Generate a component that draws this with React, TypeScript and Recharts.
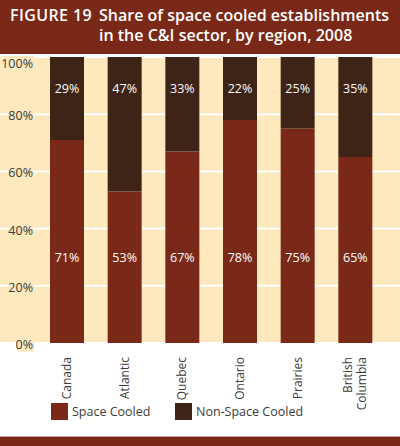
import React from "react";
import {
  BarChart,
  Bar,
  XAxis,
  YAxis,
  CartesianGrid,
  LabelList,
} from "recharts";

// share of establishments, per region, 2008
const regions = ["Canada", "Atlantic", "Quebec", "Ontario", "Prairies", "British Columbia"];
const spaceCooled = [71, 53, 67, 78, 75, 65];
const nonSpaceCooled = [29, 47, 33, 22, 25, 35];
const yTicks = [0, 20, 40, 60, 80, 100];
const seriesNames = ["Space Cooled", "Non-Space Cooled"];

const RED = "#7a2918";
const BROWN = "#3d2416";
const BEIGE = "#fde9bd";
const TEXT = "#3b3b3b";
const FONT = "'Open Sans', sans-serif";

const data = regions.map((region, i) => ({
  region,
  cooled: spaceCooled[i],
  nonCooled: nonSpaceCooled[i],
}));

function YTick(props: any) {
  const { x, y, payload } = props;
  const label = `${payload.value}%`;
  const w = label.length * 7.6;
  const dy = payload.value === 100 ? 6 : 1.5;
  return (
    <g>
      <rect x={x - w - 1} y={y + dy - 7} width={w + 2} height={14} fill={BEIGE} />
      <text
        x={x}
        y={y + dy}
        textAnchor="end"
        dominantBaseline="central"
        fill={TEXT}
        fontSize={12.5}
        fontFamily={FONT}
      >
        {label}
      </text>
    </g>
  );
}

function XTick(props: any) {
  const { x, y, payload } = props;
  const words: string[] = payload.value.length > 10 ? payload.value.split(" ") : [payload.value];
  const lineGap = 14;
  const first = x + 4 - ((words.length - 1) * lineGap) / 2;
  return (
    <g>
      {words.map((w, i) => (
        <text
          key={w}
          transform={`translate(${first + i * lineGap}, ${y + 6}) rotate(-90)`}
          textAnchor="end"
          fill={TEXT}
          fontSize={12}
          fontFamily={FONT}
        >
          {w}
        </text>
      ))}
    </g>
  );
}

// labels sit at fixed heights on the value scale: ~30% for the lower segment, ~89% for the upper one
function lowerLabel(props: any) {
  const { x, y, width, height, value } = props;
  const full = (height * 100) / value;
  return (
    <text
      x={x + width / 2}
      y={y + height - full * 0.3}
      textAnchor="middle"
      dominantBaseline="central"
      fill="#fff"
      fontSize={12.5}
      fontFamily={FONT}
    >
      {value}%
    </text>
  );
}

function upperLabel(props: any) {
  const { x, y, width, height, value } = props;
  const full = (height * 100) / value;
  return (
    <text
      x={x + width / 2}
      y={y + full * 0.109}
      textAnchor="middle"
      dominantBaseline="central"
      fill="#fff"
      fontSize={12.5}
      fontFamily={FONT}
    >
      {value}%
    </text>
  );
}

export default function App() {
  return (
    <div
      style={{
        position: "absolute",
        left: 0,
        top: 0,
        width: 400,
        height: 446,
        background: "#fff",
        fontFamily: FONT,
        overflow: "hidden",
      }}
    >
      <div style={{ position: "absolute", left: 0, top: 0, width: 400, height: 54, background: RED }}>
        <div
          style={{
            position: "absolute",
            left: 10,
            top: 5,
            color: "#fff",
            fontWeight: 600,
            fontSize: 16,
            lineHeight: "20px",
            letterSpacing: 0.4,
          }}
        >
          FIGURE 19
        </div>
        <div
          style={{
            position: "absolute",
            left: 99,
            top: 5,
            color: "#fff",
            fontWeight: 600,
            fontSize: 16,
            lineHeight: "20px",
            whiteSpace: "nowrap",
          }}
        >
          Share of space cooled establishments
          <br />
          in the C&amp;I sector, by region, 2008
        </div>
      </div>
      <div style={{ position: "absolute", left: 0, top: 56, width: 400, height: 287, background: BEIGE }} />

      <div style={{ position: "absolute", left: 0, top: 0 }}>
        <BarChart
          width={400}
          height={446}
          data={data}
          margin={{ top: 57, right: 16, bottom: 0, left: 0 }}
          barSize={34}
        >
          <CartesianGrid
            vertical={false}
            horizontal={(p: any) => (
              <line
                key={p.key ?? `g${p.index}`}
                x1={0}
                x2={400}
                y1={p.y1}
                y2={p.y2}
                stroke="#fff"
                strokeWidth={2}
              />
            )}
          />
          <XAxis
            dataKey="region"
            axisLine={false}
            tickLine={false}
            height={103}
            interval={0}
            tick={<XTick />}
          />
          <YAxis
            domain={[0, 100]}
            ticks={yTicks}
            axisLine={false}
            tickLine={false}
            tickSize={3}
            width={38}
            tick={<YTick />}
          />
          <Bar dataKey="cooled" stackId="a" fill={RED} name={seriesNames[0]} isAnimationActive={false}>
            <LabelList dataKey="cooled" content={lowerLabel} />
          </Bar>
          <Bar dataKey="nonCooled" stackId="a" fill={BROWN} name={seriesNames[1]} isAnimationActive={false}>
            <LabelList dataKey="nonCooled" content={upperLabel} />
          </Bar>
        </BarChart>
      </div>

      {/* legend */}
      {seriesNames.map((name, i) => (
        <div
          key={name}
          style={{
            position: "absolute",
            left: i === 0 ? 51 : 175,
            top: 403,
            height: 17,
            display: "flex",
            alignItems: "center",
            color: TEXT,
            fontSize: 12.5,
          }}
        >
          <span style={{ width: 17, height: 17, background: i === 0 ? RED : BROWN, marginRight: 4 }} />
          {name}
        </div>
      ))}

      <div style={{ position: "absolute", left: 0, top: 436, width: 400, height: 1, background: "#c9a39a" }} />
      <div style={{ position: "absolute", left: 0, top: 437, width: 400, height: 9, background: RED }} />
    </div>
  );
}
